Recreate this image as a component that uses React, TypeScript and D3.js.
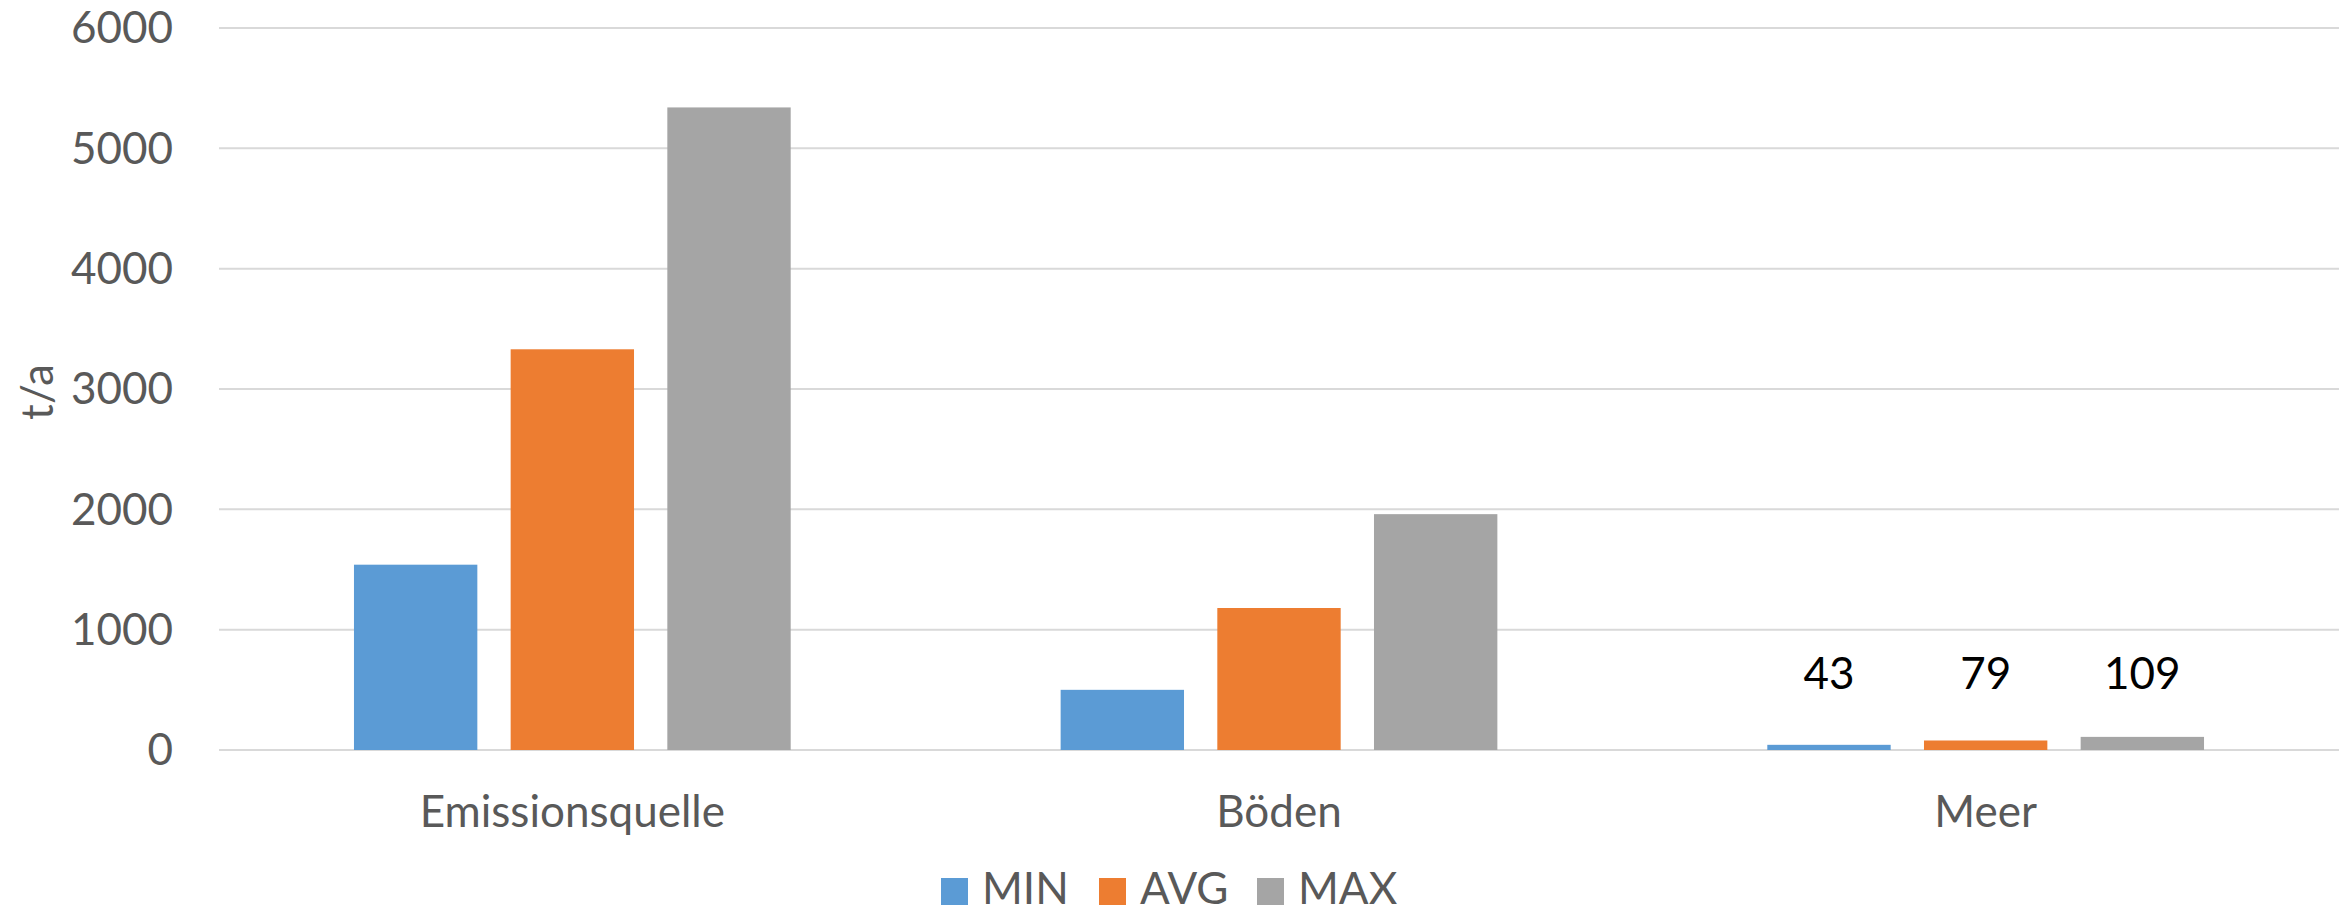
import React from "react";
import * as d3 from "d3";

const categories = ["Emissionsquelle", "Böden", "Meer"];
const seriesNames = ["MIN", "AVG", "MAX"];
const minValues = [1540, 500, 43];
const avgValues = [3330, 1180, 79];
const maxValues = [5340, 1960, 109];
const yTicks = [0, 1000, 2000, 3000, 4000, 5000, 6000];
// only the Meer bars carry data labels in the original
const labelledCategory = "Meer";

const colors = ["#5B9BD5", "#ED7D31", "#A5A5A5"];

const width = 2351;
const height = 913;
const margin = { top: 28, right: 12, bottom: 163, left: 219 };
const font = "Lato, 'Open Sans', sans-serif";
const fontSize = 44;

export default function App() {
  const values = [minValues, avgValues, maxValues];

  const x0 = d3
    .scaleBand()
    .domain(categories)
    .range([margin.left, width - margin.right])
    .paddingInner(0.382)
    .paddingOuter(0.191);

  const x1 = d3
    .scaleBand()
    .domain(seriesNames)
    .range([0, x0.bandwidth()])
    .paddingInner(0.2126);

  const y = d3
    .scaleLinear()
    .domain([0, 6000])
    .range([height - margin.bottom, margin.top]);

  const legendStep = 158;
  const legendX = 941;

  return (
    <svg
      width={width}
      height={height}
      style={{ position: "absolute", left: 0, top: 0, background: "#fff" }}
      fontFamily={font}
    >
      {/* gridlines + tick labels */}
      {yTicks.map((t) => (
        <g key={t}>
          <line
            x1={margin.left}
            x2={width - margin.right}
            y1={y(t)}
            y2={y(t)}
            stroke="#D9D9D9"
            strokeWidth={2}
          />
          <text
            x={173}
            y={y(t)}
            dy="0.35em"
            textAnchor="end"
            fontSize={fontSize}
            fill="#595959"
          >
            {t}
          </text>
        </g>
      ))}

      {/* y axis title */}
      <text
        transform={`translate(53, 392) rotate(-90)`}
        textAnchor="middle"
        fontSize={fontSize}
        fill="#595959"
      >
        t/a
      </text>

      {/* bars */}
      {categories.map((c, ci) => (
        <g key={c} transform={`translate(${x0(c)},0)`}>
          {seriesNames.map((s, si) => {
            const v = values[si][ci];
            return (
              <rect
                key={s}
                x={x1(s)}
                y={y(v)}
                width={x1.bandwidth()}
                height={y(0) - y(v)}
                fill={colors[si]}
              />
            );
          })}
          {c === labelledCategory &&
            seriesNames.map((s, si) => (
              <text
                key={s + "-label"}
                x={(x1(s) ?? 0) + x1.bandwidth() / 2}
                y={y(0) - 61}
                textAnchor="middle"
                fontSize={fontSize}
                fill="#000"
              >
                {values[si][ci]}
              </text>
            ))}
        </g>
      ))}

      {/* category labels */}
      {categories.map((c) => (
        <text
          key={c}
          x={(x0(c) ?? 0) + x0.bandwidth() / 2}
          y={827}
          textAnchor="middle"
          fontSize={fontSize}
          fill="#595959"
        >
          {c}
        </text>
      ))}

      {/* legend */}
      {seriesNames.map((s, i) => (
        <g key={s} transform={`translate(${legendX + i * legendStep}, 878)`}>
          <rect width={27} height={27} fill={colors[i]} />
          <text x={41} y={26} fontSize={fontSize} fill="#595959">
            {s}
          </text>
        </g>
      ))}
    </svg>
  );
}
